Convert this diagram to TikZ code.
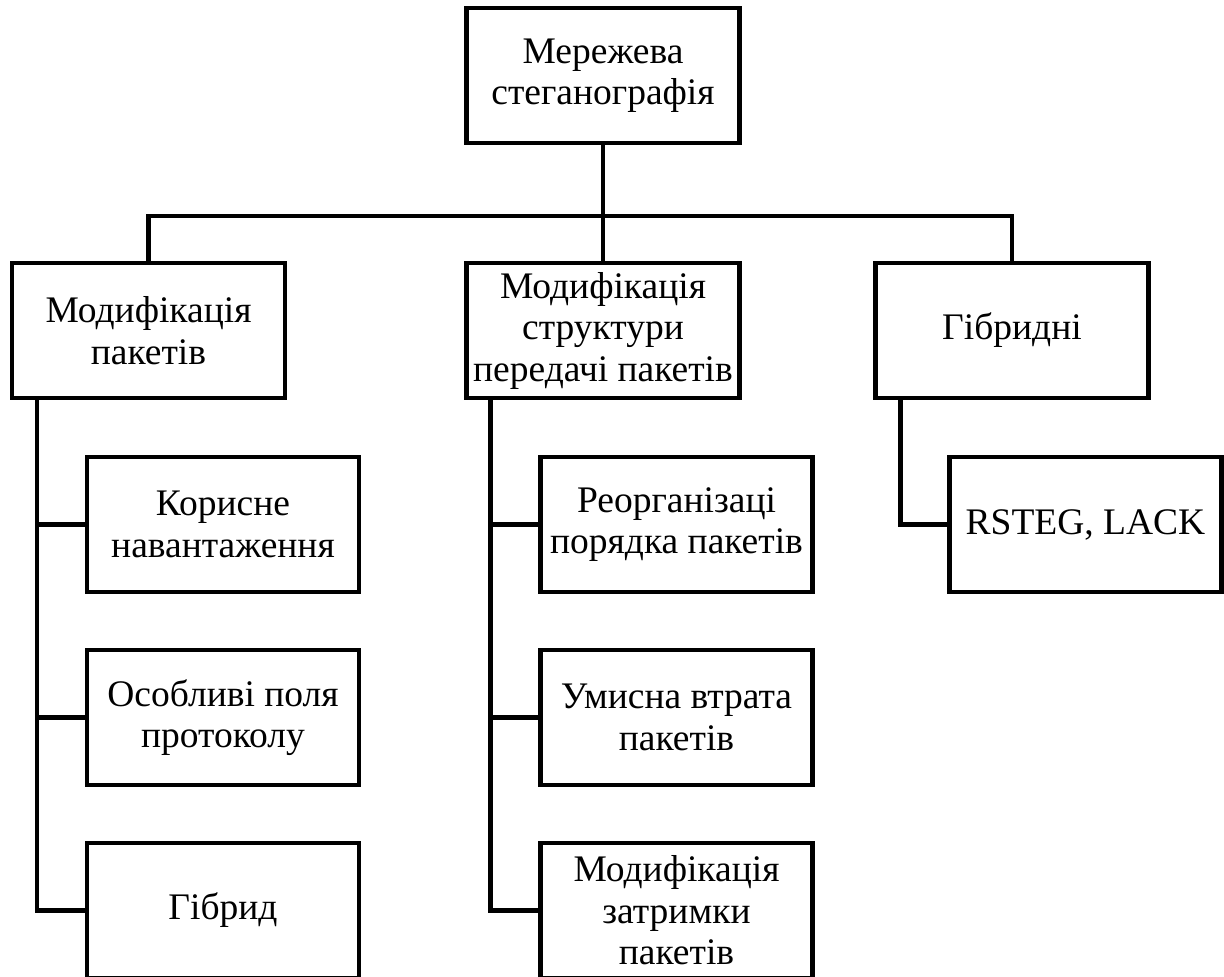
\documentclass[tikz,border=0pt]{standalone}
\usepackage{fontspec}
\setmainfont{Liberation Serif}
\begin{document}
\begin{tikzpicture}[x=1pt,y=-1pt,
  box/.style={draw=black, line width=4.5pt, fill=white, inner sep=0pt,
    minimum width=273pt, minimum height=135pt, align=center,
    font=\fontsize{37.5}{41.5}\selectfont},
  link/.style={draw=black, line width=4.5pt}]
\useasboundingbox (0,0) rectangle (1224,977);

% root and first level
\node[box] (root) at (603,75.5) {Мережева\\стеганографія};
\node[box] (pkt)  at (148.5,330.5) {Модифікація\\пакетів};
\node[box] (str)  at (603,330.5) {Модифікація\\структури\\передачі пакетів};
\node[box] (hyb)  at (1012,330.5) {Гібридні};

% children of "Модифікація пакетів"
\node[box, minimum width=272pt] (p1) at (223,524.5) {Корисне\\навантаження};
\node[box, minimum width=272pt] (p2) at (223,717.5) {Особливі поля\\протоколу};
\node[box, minimum width=272pt] (p3) at (223,910.5) {Гібрид};

% children of the transfer-structure branch
\node[box, minimum width=272pt] (s1) at (676.5,524.5) {Реорганізаці\\порядка пакетів};
\node[box, minimum width=272pt] (s2) at (676.5,717.5) {Умисна втрата\\пакетів};
\node[box, minimum width=272pt] (s3) at (676.5,910.5) {Модифікація\\затримки\\пакетів};

% child of the hybrid branch
\node[box, minimum width=272pt] (h1) at (1085.5,524.5) {RSTEG, LACK};

% bus between root and first level
\coordinate (bus) at (603,216);
\draw[link] (root.south) -- (str.north);
\draw[link] (pkt.north) |- (bus) -| (hyb.north);

% side spines
\coordinate (pv) at ([xshift=27pt]pkt.south west);
\coordinate (sv) at ([xshift=26pt]str.south west);
\coordinate (hv) at ([xshift=27pt]hyb.south west);
\draw[link] (pv) |- (p1.west);
\draw[link] (pv) |- (p2.west);
\draw[link] (pv) |- (p3.west);
\draw[link] (sv) |- (s1.west);
\draw[link] (sv) |- (s2.west);
\draw[link] (sv) |- (s3.west);
\draw[link] (hv) |- (h1.west);
\end{tikzpicture}
\end{document}
